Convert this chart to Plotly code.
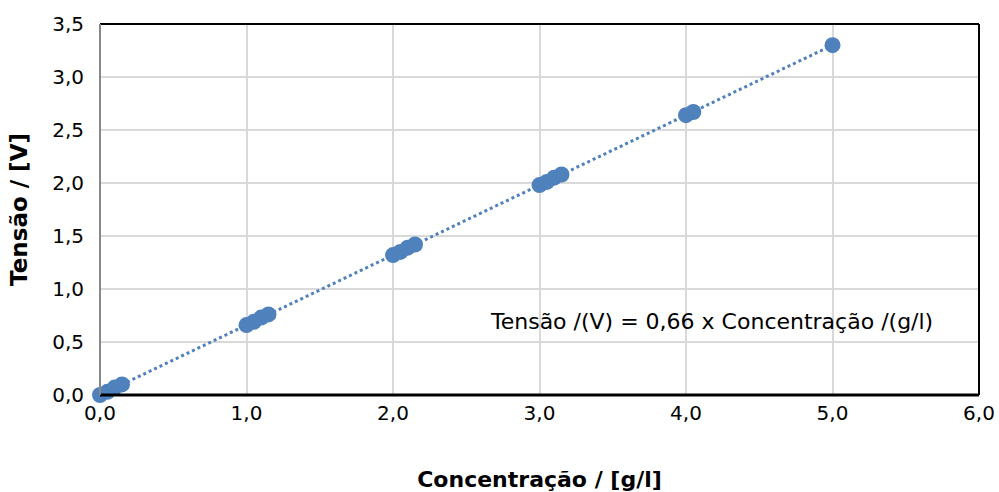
import plotly.graph_objects as go

concentracao = [0.0, 0.05, 0.10, 0.15, 1.00, 1.05, 1.10, 1.15, 2.00, 2.05, 2.10, 2.15,
                3.00, 3.05, 3.10, 3.15, 4.00, 4.05, 5.00]
tensao = [0.00, 0.03, 0.07, 0.10, 0.66, 0.69, 0.73, 0.76, 1.32, 1.35, 1.39, 1.42,
          1.98, 2.01, 2.05, 2.08, 2.64, 2.67, 3.30]
slope = 0.66
trend_x = [0.0, 5.0]
trend_y = [slope * v for v in trend_x]
x_ticks = [0, 1, 2, 3, 4, 5, 6]
x_tick_labels = ["0,0", "1,0", "2,0", "3,0", "4,0", "5,0", "6,0"]
y_ticks = [0, 0.5, 1, 1.5, 2, 2.5, 3, 3.5]
y_tick_labels = ["0,0", "0,5", "1,0", "1,5", "2,0", "2,5", "3,0", "3,5"]

blue = "#4F81BD"
font_family = "DejaVu Sans, sans-serif"

fig = go.Figure()
fig.add_trace(go.Scatter(x=trend_x, y=trend_y, mode="lines",
                         line=dict(color=blue, width=3, dash="dot"),
                         showlegend=False, hoverinfo="skip"))
fig.add_trace(go.Scatter(x=concentracao, y=tensao, mode="markers",
                         marker=dict(color=blue, size=16, line=dict(width=0)),
                         showlegend=False, cliponaxis=False))

fig.add_annotation(x=2.65, y=0.69, xref="x", yref="y", xanchor="left", yanchor="middle",
                   text="Tensão /(V) = 0,66 x Concentração /(g/l)", showarrow=False,
                   font=dict(size=22, color="#000000", family=font_family))

# plot border: left gray, others black
fig.add_shape(type="line", xref="paper", yref="paper", x0=0, x1=1, y0=1, y1=1,
              line=dict(color="#000000", width=2))
fig.add_shape(type="line", xref="paper", yref="paper", x0=1, x1=1, y0=0, y1=1,
              line=dict(color="#000000", width=2))
fig.add_shape(type="line", xref="paper", yref="paper", x0=0, x1=1, y0=0, y1=0,
              line=dict(color="#000000", width=3))
fig.add_shape(type="line", xref="paper", yref="paper", x0=0, x1=0, y0=0, y1=1,
              line=dict(color="#888888", width=2))

fig.update_layout(
    width=999, height=492,
    margin=dict(l=100, r=20, t=24, b=97),
    paper_bgcolor="white", plot_bgcolor="white",
    font=dict(family=font_family, color="#000000", size=20),
    xaxis=dict(range=[0, 6], tickvals=x_ticks, ticktext=x_tick_labels,
               showgrid=True, gridcolor="#D9D9D9", gridwidth=1.5,
               zeroline=False, showline=False, ticks="", ticklen=0,
               ticklabelstandoff=4, automargin=False,
               tickfont=dict(size=20),
               title=dict(text="<b>Concentração / [g/l]</b>", font=dict(size=22), standoff=47)),
    yaxis=dict(range=[0, 3.5], tickvals=y_ticks, ticktext=y_tick_labels,
               showgrid=True, gridcolor="#D9D9D9", gridwidth=1.5,
               zeroline=False, showline=False, ticks="", ticklen=0,
               ticklabelstandoff=15, automargin=False,
               tickfont=dict(size=20),
               title=dict(text="<b>Tensão / [V]</b>", font=dict(size=23), standoff=18)),
)

fig.write_html("out.html", post_script="document.body.style.margin='0';",
               config={"displayModeBar": False})
